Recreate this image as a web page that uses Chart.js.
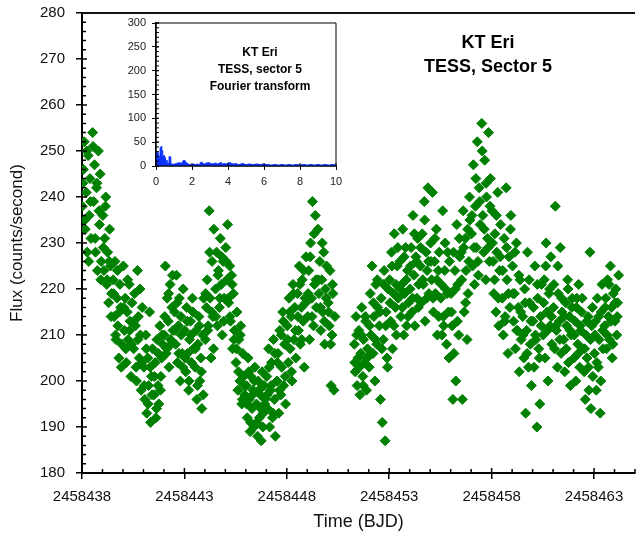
<!DOCTYPE html>
<html>
<head>
<meta charset="utf-8">
<script src="https://cdn.jsdelivr.net/npm/chart.js@4.4.0/dist/chart.umd.min.js"></script>
<style>
  html, body { margin: 0; padding: 0; background: #fff; }
  #wrap { position: relative; width: 641px; height: 533px; overflow: hidden; }
  #main { position: absolute; left: 0; top: 0; }
  #inset { position: absolute; left: 100px; top: 0; }
  .note {
    position: absolute;
    font-family: "Liberation Sans", Arial, sans-serif;
    font-weight: bold;
    text-align: center;
    color: #000;
    white-space: nowrap;
  }
</style>
</head>
<body>
<div id="wrap">
  <canvas id="main" width="641" height="533"></canvas>
  <canvas id="inset" width="245" height="195"></canvas>
  <div class="note" style="left:408px;top:30px;width:160px;font-size:18px;line-height:24px;">KT Eri<br>TESS, Sector 5</div>
  <div class="note" style="left:200px;top:44px;width:120px;font-size:12px;line-height:17px;">KT Eri<br>TESS, sector 5<br>Fourier transform</div>
</div>
<script>
// light curve, time in days after t0 (BJD)
const t0 = 2458438

const timeA = [
  0.02, 0.07, 0.11, 0.16, 0.21, 0.25, 0.30, 0.35, 0.39, 0.44,
  0.52, 0.57, 0.61, 0.66, 0.71, 0.75, 0.80, 0.85, 0.89, 0.94,
  1.02, 1.07, 1.11, 1.16, 1.21, 1.25, 1.30, 1.35, 1.39, 1.44,
  1.52, 1.57, 1.61, 1.66, 1.71, 1.75, 1.80, 1.85, 1.89, 1.94,
  2.02, 2.07, 2.11, 2.16, 2.21, 2.25, 2.30, 2.35, 2.39, 2.44,
  2.52, 2.57, 2.61, 2.66, 2.71, 2.75, 2.80, 2.85, 2.89, 2.94,
  3.02, 3.07, 3.11, 3.16, 3.21, 3.25, 3.30, 3.35, 3.39, 3.44,
  3.52, 3.57, 3.61, 3.66, 3.71, 3.75, 3.80, 3.85, 3.89, 3.94,
  4.02, 4.07, 4.11, 4.16, 4.21, 4.25, 4.30, 4.35, 4.39, 4.44,
  4.52, 4.57, 4.61, 4.66, 4.71, 4.75, 4.80, 4.85, 4.89, 4.94,
  5.02, 5.07, 5.11, 5.16, 5.21, 5.25, 5.30, 5.35, 5.39, 5.44,
  5.52, 5.57, 5.61, 5.66, 5.71, 5.75, 5.80, 5.85, 5.89, 5.94,
  6.02, 6.07, 6.11, 6.16, 6.21, 6.25, 6.30, 6.35, 6.39, 6.44,
  6.52, 6.57, 6.61, 6.66, 6.71, 6.75, 6.80, 6.85, 6.89, 6.94,
  7.02, 7.07, 7.11, 7.16, 7.21, 7.25, 7.30, 7.35, 7.39, 7.44,
  7.52, 7.57, 7.61, 7.66, 7.71, 7.75, 7.80, 7.85, 7.89, 7.94,
  8.02, 8.07, 8.11, 8.16, 8.21, 8.25, 8.30, 8.35, 8.39, 8.44,
  8.52, 8.57, 8.61, 8.66, 8.71, 8.75, 8.80, 8.85, 8.89, 8.94,
  9.02, 9.07, 9.11, 9.16, 9.21, 9.25, 9.30, 9.35, 9.39, 9.44,
  9.52, 9.57, 9.61, 9.66, 9.71, 9.75, 9.80, 9.85, 9.89, 9.94,
  10.02, 10.07, 10.11, 10.16, 10.21, 10.25, 10.30, 10.35, 10.39, 10.44,
  10.52, 10.57, 10.61, 10.66, 10.71, 10.75, 10.80, 10.85, 10.89, 10.94,
  11.02, 11.07, 11.11, 11.16, 11.21, 11.25, 11.30, 11.35, 11.39, 11.44,
  11.52, 11.57, 11.61, 11.66, 11.71, 11.75, 11.80, 11.85, 11.89, 11.94,
  12.02, 12.07, 12.11, 12.16, 12.21, 12.25, 12.30, 12.35,
]
const fluxA = [
  238, 246, 252, 233, 241, 228, 249, 236, 244, 231,
  254, 239, 247, 228, 242, 224, 250, 234, 245, 226,
  236, 224, 231, 240, 221, 228, 217, 233, 225, 219,
  222, 214, 226, 209, 218, 212, 205, 221, 216, 208,
  225, 211, 218, 204, 215, 209, 221, 213, 201, 217,
  207, 219, 212, 200, 224, 214, 205, 210, 198, 216,
  203, 196, 210, 193, 205, 199, 215, 191, 201, 207,
  197, 204, 192, 209, 199, 195, 212, 201, 205, 208,
  210, 225, 206, 218, 213, 203, 221, 208, 216, 211,
  215, 208, 223, 204, 212, 218, 200, 210, 206, 220,
  211, 202, 216, 206, 198, 209, 213, 204, 218, 207,
  203, 211, 196, 208, 214, 200, 205, 194, 210, 218,
  209, 216, 222, 212, 237, 218, 205, 226, 214, 233,
  220, 228, 212, 224, 216, 231, 221, 210, 226, 218,
  229, 222, 234, 217, 225, 213, 223, 207, 219, 211,
  204, 215, 198, 209, 200, 212, 195, 206, 201, 197,
  199, 192, 205, 196, 189, 201, 194, 198, 190, 203,
  195, 188, 200, 192, 197, 187, 202, 193, 199, 196,
  201, 194, 207, 190, 198, 204, 192, 209, 196, 188,
  200, 206, 193, 211, 197, 203, 215, 199, 208, 195,
  212, 204, 218, 207, 214, 200, 221, 209, 216, 205,
  219, 211, 225, 208, 216, 222, 213, 203, 218, 227,
  214, 224, 209, 230, 218, 239, 212, 221, 236, 216,
  233, 219, 226, 211, 222, 215, 228, 208, 220, 225,
  217, 212, 224, 199, 210, 219, 198, 214,
]

// extra samples between the ones above, first half of the sector
const timeC = [
  0.04, 0.14, 0.23, 0.33, 0.42, 0.54, 0.64, 0.73, 0.83, 0.92,
  1.04, 1.14, 1.23, 1.33, 1.42, 1.54, 1.64, 1.73, 1.83, 1.92,
  2.04, 2.14, 2.23, 2.33, 2.42, 2.54, 2.64, 2.73, 2.83, 2.92,
  3.04, 3.14, 3.23, 3.33, 3.42, 3.54, 3.64, 3.73, 3.83, 3.92,
  4.04, 4.14, 4.23, 4.33, 4.42, 4.54, 4.64, 4.73, 4.83, 4.92,
  5.04, 5.14, 5.23, 5.33, 5.42, 5.54, 5.64, 5.73, 5.83, 5.92,
  6.04, 6.14, 6.23, 6.33, 6.42, 6.54, 6.64, 6.73, 6.83, 6.92,
  7.04, 7.14, 7.23, 7.33, 7.42, 7.54, 7.64, 7.73, 7.83, 7.92,
  8.04, 8.14, 8.23, 8.33, 8.42, 8.54, 8.64, 8.73, 8.83, 8.92,
  9.04, 9.14, 9.23, 9.33, 9.42, 9.54, 9.64, 9.73, 9.83, 9.92,
  10.04, 10.14, 10.23, 10.33, 10.42, 10.54, 10.64, 10.73, 10.83, 10.92,
  11.04, 11.14, 11.23, 11.33, 11.42, 11.54, 11.64, 11.73, 11.83, 11.92,
  12.04, 12.14, 12.23,
]
const fluxC = [
  243, 235, 250, 226, 239, 251, 231, 243, 237, 222,
  229, 238, 222, 226, 214, 219, 210, 224, 215, 203,
  216, 207, 222, 211, 208, 213, 203, 209, 220, 204,
  199, 207, 195, 203, 197, 201, 194, 206, 198, 210,
  214, 207, 219, 209, 223, 211, 217, 206, 214, 203,
  205, 213, 200, 210, 215, 207, 199, 212, 202, 197,
  219, 211, 228, 215, 207, 214, 223, 218, 227, 213,
  226, 218, 214, 221, 209, 207, 202, 210, 196, 199,
  195, 202, 191, 197, 200, 191, 198, 194, 190, 195,
  197, 203, 199, 193, 206, 204, 198, 210, 213, 201,
  209, 215, 202, 219, 211, 214, 221, 209, 224, 217,
  219, 227, 214, 232, 222, 222, 216, 230, 213, 218,
  215, 208, 221,
]

const timeB = [
  13.30, 13.34, 13.38, 13.43, 13.47,
  13.52, 13.57, 13.61, 13.66, 13.71, 13.75, 13.80, 13.85, 13.89, 13.94,
  14.02, 14.07, 14.11, 14.16, 14.21, 14.25, 14.30, 14.35, 14.39, 14.44,
  14.52, 14.57, 14.61, 14.66, 14.71, 14.75, 14.80, 14.85, 14.89, 14.94,
  15.02, 15.07, 15.11, 15.16, 15.21, 15.25, 15.30, 15.35, 15.39, 15.44,
  15.52, 15.57, 15.61, 15.66, 15.71, 15.75, 15.80, 15.85, 15.89, 15.94,
  16.02, 16.07, 16.11, 16.16, 16.21, 16.25, 16.30, 16.35, 16.39, 16.44,
  16.52, 16.57, 16.61, 16.66, 16.71, 16.75, 16.80, 16.85, 16.89, 16.94,
  17.02, 17.07, 17.11, 17.16, 17.21, 17.25, 17.30, 17.35, 17.39, 17.44,
  17.52, 17.57, 17.61, 17.66, 17.71, 17.75, 17.80, 17.85, 17.89, 17.94,
  18.02, 18.07, 18.11, 18.16, 18.21, 18.25, 18.30, 18.35, 18.39, 18.44,
  18.52, 18.57, 18.61, 18.66, 18.71, 18.75, 18.80, 18.85, 18.89, 18.94,
  19.02, 19.07, 19.11, 19.16, 19.21, 19.25, 19.30, 19.35, 19.39, 19.44,
  19.52, 19.57, 19.61, 19.66, 19.71, 19.75, 19.80, 19.85, 19.89, 19.94,
  20.02, 20.07, 20.11, 20.16, 20.21, 20.25, 20.30, 20.35, 20.39, 20.44,
  20.52, 20.57, 20.61, 20.66, 20.71, 20.75, 20.80, 20.85, 20.89, 20.94,
  21.02, 21.07, 21.11, 21.16, 21.21, 21.25, 21.30, 21.35, 21.39, 21.44,
  21.52, 21.57, 21.61, 21.66, 21.71, 21.75, 21.80, 21.85, 21.89, 21.94,
  22.02, 22.07, 22.11, 22.16, 22.21, 22.25, 22.30, 22.35, 22.39, 22.44,
  22.52, 22.57, 22.61, 22.66, 22.71, 22.75, 22.80, 22.85, 22.89, 22.94,
  23.02, 23.07, 23.11, 23.16, 23.21, 23.25, 23.30, 23.35, 23.39, 23.44,
  23.52, 23.57, 23.61, 23.66, 23.71, 23.75, 23.80, 23.85, 23.89, 23.94,
  24.02, 24.07, 24.11, 24.16, 24.21, 24.25, 24.30, 24.35, 24.39, 24.44,
  24.52, 24.57, 24.61, 24.66, 24.71, 24.75, 24.80, 24.85, 24.89, 24.94,
  25.02, 25.07, 25.11, 25.16, 25.21, 25.25, 25.30, 25.35, 25.39, 25.44,
  25.52, 25.57, 25.61, 25.66, 25.71, 25.75, 25.80, 25.85, 25.89, 25.94,
  26.02, 26.06, 26.11, 26.15, 26.20,
]
const fluxB = [
  208, 202, 214, 199, 205,
  211, 197, 206, 216, 201, 209, 204, 213, 198, 207,
  203, 219, 210, 225, 206, 214, 200, 221, 208, 216,
  212, 196, 218, 191, 209, 224, 187, 215, 205, 220,
  222, 213, 228, 207, 219, 232, 216, 210, 225, 218,
  226, 214, 221, 233, 210, 219, 229, 212, 224, 217,
  220, 229, 215, 236, 223, 212, 227, 218, 231, 221,
  225, 217, 232, 221, 239, 213, 228, 224, 242, 219,
  230, 222, 241, 215, 226, 219, 233, 210, 224, 228,
  218, 210, 237, 212, 224, 220, 208, 228, 215, 226,
  219, 212, 196, 206, 224, 200, 234, 221, 210, 227,
  228, 196, 237, 215, 231, 224, 209, 219, 226, 235,
  232, 225, 247, 221, 238, 229, 252, 223, 242, 234,
  256, 236, 228, 248, 222, 240, 231, 254, 226, 244,
  237, 226, 219, 232, 215, 228, 241, 212, 224, 234,
  218, 210, 231, 214, 242, 222, 206, 227, 216, 236,
  225, 213, 219, 207, 230, 211, 216, 202, 222, 209,
  214, 205, 220, 193, 211, 228, 203, 217, 208, 199,
  213, 203, 225, 209, 190, 218, 207, 195, 214, 221,
  210, 222, 205, 230, 215, 200, 219, 212, 227, 208,
  216, 207, 238, 211, 203, 219, 213, 229, 206, 215,
  209, 202, 217, 212, 222, 204, 214, 199, 210, 218,
  205, 213, 200, 218, 208, 221, 203, 211, 215, 207,
  202, 196, 210, 205, 214, 198, 228, 194, 212, 201,
  206, 213, 198, 218, 203, 209, 193, 215, 221, 207,
  212, 218, 207, 222, 214, 209, 225, 216, 205, 219,
  213, 220, 210, 217, 223,
]

// extra samples, second half of the sector
const timeD = [
  13.32, 13.41,
  13.54, 13.64, 13.73, 13.83, 13.92, 14.04, 14.14, 14.23, 14.33, 14.42,
  14.54, 14.64, 14.73, 14.83, 14.92, 15.04, 15.14, 15.23, 15.33, 15.42,
  15.54, 15.64, 15.73, 15.83, 15.92, 16.04, 16.14, 16.23, 16.33, 16.42,
  16.54, 16.64, 16.73, 16.83, 16.92, 17.04, 17.14, 17.23, 17.33, 17.42,
  17.54, 17.64, 17.73, 17.83, 17.92, 18.04, 18.14, 18.23, 18.33, 18.42,
  18.54, 18.64, 18.73, 18.83, 18.92, 19.04, 19.14, 19.23, 19.33, 19.42,
  19.54, 19.64, 19.73, 19.83, 19.92, 20.04, 20.14, 20.23, 20.33, 20.42,
  20.54, 20.64, 20.73, 20.83, 20.92, 21.04, 21.14, 21.23, 21.33, 21.42,
  21.54, 21.64, 21.73, 21.83, 21.92, 22.04, 22.14, 22.23, 22.33, 22.42,
  22.54, 22.64, 22.73, 22.83, 22.92, 23.04, 23.14, 23.23, 23.33, 23.42,
  23.54, 23.64, 23.73, 23.83, 23.92, 24.04, 24.14, 24.23, 24.33, 24.42,
  24.54, 24.64, 24.73, 24.83, 24.92, 25.04, 25.14, 25.23, 25.33, 25.42,
  25.54, 25.64, 25.73, 25.83, 25.92,
  26.04, 26.13,
]
const fluxD = [
  204, 210,
  203, 210, 199, 214, 205, 212, 206, 217, 209, 222,
  215, 207, 221, 212, 203, 217, 225, 212, 221, 229,
  220, 216, 227, 222, 214, 225, 218, 232, 226, 216,
  229, 222, 235, 218, 226, 226, 218, 231, 222, 214,
  221, 214, 230, 219, 205, 215, 228, 220, 213, 231,
  222, 229, 217, 233, 240, 236, 229, 244, 226, 239,
  250, 233, 243, 229, 238, 230, 222, 236, 218, 227,
  224, 213, 229, 219, 233, 219, 228, 211, 223, 215,
  210, 217, 206, 222, 213, 216, 210, 221, 205, 212,
  217, 225, 211, 220, 214, 221, 212, 225, 209, 218,
  214, 207, 220, 211, 216, 210, 216, 206, 212, 218,
  207, 213, 203, 209, 216, 210, 204, 214, 200, 211,
  216, 210, 221, 213, 208,
  217, 214,
]

const xTicks = [2458438, 2458443, 2458448, 2458453, 2458458, 2458463]

// Fourier transform inset
const ftFreq = [
  0, 0.05, 0.1, 0.15, 0.2, 0.25, 0.3, 0.35, 0.4, 0.45,
  0.5, 0.55, 0.6, 0.65, 0.7, 0.75, 0.8, 0.85, 0.9, 0.95,
  1.0, 1.1, 1.2, 1.3, 1.4, 1.5, 1.55, 1.6, 1.65, 1.7,
  1.8, 1.9, 2.0, 2.1, 2.2, 2.3, 2.4, 2.5, 2.55, 2.6,
  2.7, 2.8, 2.9, 3.0, 3.1, 3.2, 3.3, 3.4, 3.5, 3.6,
  3.7, 3.8, 3.9, 4.0, 4.1, 4.2, 4.3, 4.4, 4.5, 4.6,
  4.7, 4.8, 4.9, 5.0, 5.2, 5.4, 5.6, 5.8, 6.0, 6.2,
  6.4, 6.6, 6.8, 7.0, 7.2, 7.4, 7.6, 7.8, 8.0, 8.2,
  8.4, 8.6, 8.8, 9.0, 9.2, 9.4, 9.6, 9.8, 10.0,
]
const ftAmp = [
  26, 30, 28, 22, 18, 38, 41, 32, 20, 22,
  18, 8, 12, 4, 6, 20, 19, 5, 3, 4,
  3, 5, 6, 7, 5, 9, 12, 11, 8, 6,
  4, 3, 3, 4, 3, 4, 3, 7, 8, 5,
  4, 6, 7, 6, 4, 5, 6, 4, 5, 7,
  4, 5, 4, 6, 7, 5, 4, 5, 4, 3,
  4, 5, 4, 3, 4, 3, 4, 3, 4, 3,
  2, 3, 2, 3, 2, 3, 2, 3, 2, 3,
  2, 3, 2, 3, 2, 3, 2, 3, 2,
]

const FONT = '"Liberation Sans", Arial, sans-serif'
const GREEN = "#008000"
const BLUE = "#0a32ff"

// excel style: minor ticks inside, majors crossing, frame on top
const excelAxes = {
    id: "excelAxes",
    afterDraw(chart, args, o) {
        const { ctx, chartArea: a } = chart
        const x = chart.scales.x
        const y = chart.scales.y
        ctx.save()
        ctx.strokeStyle = "#000"
        ctx.lineWidth = o.tickWidth
        ctx.beginPath()
        if (o.yMinor) {
            for (let v = y.min; v <= y.max + 1e-9; v += o.yMinor) {
                const p = y.getPixelForValue(v)
                ctx.moveTo(a.left, p)
                ctx.lineTo(a.left + o.minorLen, p)
            }
        }
        if (o.xMinor) {
            for (let v = x.min; v <= x.max + 1e-9; v += o.xMinor) {
                const p = x.getPixelForValue(v)
                ctx.moveTo(p, a.bottom)
                ctx.lineTo(p, a.bottom - o.minorLen)
            }
        }
        y.ticks.forEach((t) => {
            const p = y.getPixelForValue(t.value)
            ctx.moveTo(a.left, p)
            ctx.lineTo(a.left + o.majorIn, p)
        })
        x.ticks.forEach((t) => {
            const p = x.getPixelForValue(t.value)
            ctx.moveTo(p, a.bottom)
            ctx.lineTo(p, a.bottom - o.majorIn)
        })
        ctx.stroke()
        ctx.lineWidth = o.frameWidth
        ctx.strokeStyle = o.frameColor
        ctx.beginPath()
        if (o.box) {
            ctx.rect(a.left, a.top, a.right - a.left, a.bottom - a.top)
        } else {
            ctx.moveTo(a.left, a.top)
            ctx.lineTo(a.right, a.top)
        }
        ctx.stroke()
        ctx.restore()
    },
}

const toPoints = (xs, ys, base) => xs.map((v, i) => ({ x: base + v, y: ys[i] }))

const diamond = {
    showLine: false,
    pointStyle: "rectRot",
    pointRadius: 5,
    pointBorderWidth: 1,
    backgroundColor: GREEN,
    borderColor: GREEN,
}

// fixed box sizes so the plot area sits where the original one does
const fixWidth = (w) => (s) => {
    s.width = w
    s.paddingTop = 0
    s.paddingBottom = 0
}
const fixHeight = (h) => (s) => {
    s.height = h
    s.paddingLeft = 0
    s.paddingRight = 0
}

new Chart(document.getElementById("main"), {
    type: "scatter",
    data: {
        datasets: [
            { data: toPoints(timeA, fluxA, t0), ...diamond },
            { data: toPoints(timeC, fluxC, t0), ...diamond },
            { data: toPoints(timeB, fluxB, t0), ...diamond },
            { data: toPoints(timeD, fluxD, t0), ...diamond },
        ],
    },
    options: {
        responsive: false,
        animation: false,
        devicePixelRatio: 1,
        layout: { padding: { top: 13, right: 0, left: 0, bottom: 0 } },
        plugins: {
            legend: { display: false },
            tooltip: { enabled: false },
            excelAxes: { tickWidth: 1.5, minorLen: 4, majorIn: 5, xMinor: 1, yMinor: 2, frameWidth: 2, frameColor: "#111", box: false },
        },
        scales: {
            x: {
                type: "linear",
                min: 2458438,
                max: 2458465,
                afterBuildTicks: (s) => {
                    s.ticks = xTicks.map((v) => ({ value: v }))
                },
                afterFit: fixHeight(60),
                ticks: {
                    callback: (v) => String(v),
                    color: "#111",
                    font: { family: FONT, size: 15 },
                    padding: 9,
                    maxRotation: 0,
                    autoSkip: false,
                },
                grid: { drawOnChartArea: false, drawTicks: true, tickLength: 6, color: "#000", lineWidth: 1.5 },
                border: { color: "#000", width: 2 },
                title: { display: true, text: "Time (BJD)", color: "#111", font: { family: FONT, size: 18 }, padding: { top: 2, bottom: 0 } },
            },
            y: {
                min: 180,
                max: 280,
                afterFit: fixWidth(82),
                ticks: { stepSize: 10, color: "#111", font: { family: FONT, size: 15 }, padding: 11 },
                grid: { drawOnChartArea: false, drawTicks: true, tickLength: 6, color: "#000", lineWidth: 1.5 },
                border: { color: "#000", width: 2 },
                title: { display: true, text: "Flux (counts/second)", color: "#111", font: { family: FONT, size: 17 }, padding: { top: 7, bottom: 0 } },
            },
        },
    },
    plugins: [excelAxes],
})

new Chart(document.getElementById("inset"), {
    type: "line",
    data: {
        datasets: [
            {
                data: toPoints(ftFreq, ftAmp, 0),
                borderColor: BLUE,
                backgroundColor: BLUE,
                borderWidth: 1,
                fill: "origin",
                stepped: "middle",
                pointRadius: 0,
            },
        ],
    },
    options: {
        responsive: false,
        animation: false,
        devicePixelRatio: 1,
        layout: { padding: { top: 23, right: 9, left: 0, bottom: 0 } },
        plugins: {
            legend: { display: false },
            tooltip: { enabled: false },
            excelAxes: { tickWidth: 1, minorLen: 3, majorIn: 3, yMinor: 10, frameWidth: 1, frameColor: "#000", box: true },
        },
        scales: {
            x: {
                type: "linear",
                min: 0,
                max: 10,
                afterFit: fixHeight(29),
                ticks: { stepSize: 2, color: "#222", font: { family: FONT, size: 11 }, padding: 5, maxRotation: 0 },
                grid: { drawOnChartArea: false, drawTicks: true, tickLength: 4, color: "#000", lineWidth: 1 },
                border: { color: "#000", width: 1.5 },
            },
            y: {
                min: 0,
                max: 300,
                afterFit: fixWidth(56),
                ticks: { stepSize: 50, color: "#222", font: { family: FONT, size: 11 }, padding: 6 },
                grid: { drawOnChartArea: false, drawTicks: true, tickLength: 4, color: "#000", lineWidth: 1 },
                border: { color: "#000", width: 1.5 },
            },
        },
    },
    plugins: [excelAxes],
})
</script>
</body>
</html>
